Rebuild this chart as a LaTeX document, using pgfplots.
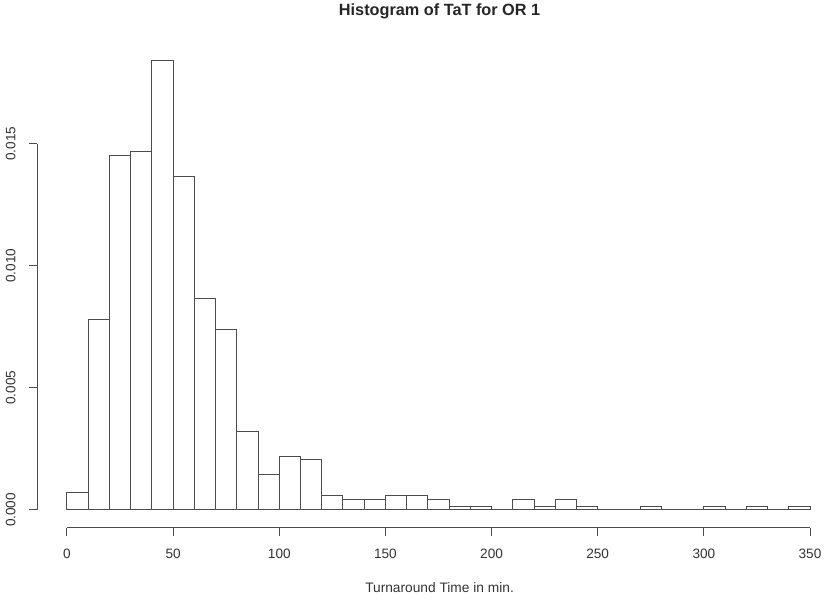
\documentclass[border=0pt]{standalone}
\usepackage{fontspec}
\setmainfont{Liberation Sans}
\usepackage{pgfplots}
\pgfplotsset{compat=1.18}

% bin left edge and density (bin width 10); last row closes the final bin
\begin{document}
\begin{tikzpicture}
\begin{axis}[
    scale only axis,
    width=590.8pt, height=364.0pt,
    xmin=-14, xmax=357.07,
    ymin=-0.000736, ymax=0.01914,
    axis x line*=bottom,
    axis y line*=left,
    axis line style={draw=none},
    tick align=outside,
    major tick length=6pt,
    tick style={black!70, line width=0.75pt},
    xtick={0,50,100,150,200,250,300,350},
    ytick={0,0.005,0.010,0.015},
    yticklabels={0.000,0.005,0.010,0.015},
    scaled y ticks=false,
    /pgf/number format/assume math mode=true,
    ticklabel style={font=\fontsize{10.2}{12}\selectfont, text=black!80},
    xticklabel style={anchor=base, yshift=-17pt},
    yticklabel style={rotate=90, anchor=base, yshift=10.5pt},
    clip=false,
]
\addplot[ybar interval, fill=white, draw=black!70, line width=0.75pt] coordinates {
    (0,0.000727) (10,0.007820) (20,0.014535) (30,0.014680) (40,0.018390)
    (50,0.013663) (60,0.008680) (70,0.007380) (80,0.003230) (90,0.001470)
    (100,0.002200) (110,0.002060) (120,0.000581) (130,0.000436) (140,0.000436)
    (150,0.000581) (160,0.000581) (170,0.000436) (180,0.000145) (190,0.000145)
    (200,0) (210,0.000436) (220,0.000145) (230,0.000436) (240,0.000145)
    (250,0) (260,0) (270,0.000145) (280,0) (290,0)
    (300,0.000145) (310,0) (320,0.000145) (330,0) (340,0.000145)
    (350,0)
};
% R-style axis lines that run from the first tick to the last
\draw[black!70, line width=0.75pt] (axis cs:0,-0.000736) -- (axis cs:350,-0.000736);
\draw[black!70, line width=0.75pt] (axis cs:-14,0) -- (axis cs:-14,0.015);
\node[anchor=base, font=\fontsize{12.2}{14}\selectfont\bfseries, text=black!85]
    at (axis cs:175.5,0.02023) {Histogram of TaT for OR 1};
\node[anchor=base, font=\fontsize{10.3}{12}\selectfont, text=black!80]
    at (axis cs:175.5,-0.003399) {Turnaround Time in min.};
\coordinate (bl) at (axis cs:-31.56,-0.003686);
\coordinate (tr) at (axis cs:357.07,0.020885);
\end{axis}
\pgfresetboundingbox
\path[use as bounding box] (bl) rectangle (tr);
\end{tikzpicture}
\end{document}
